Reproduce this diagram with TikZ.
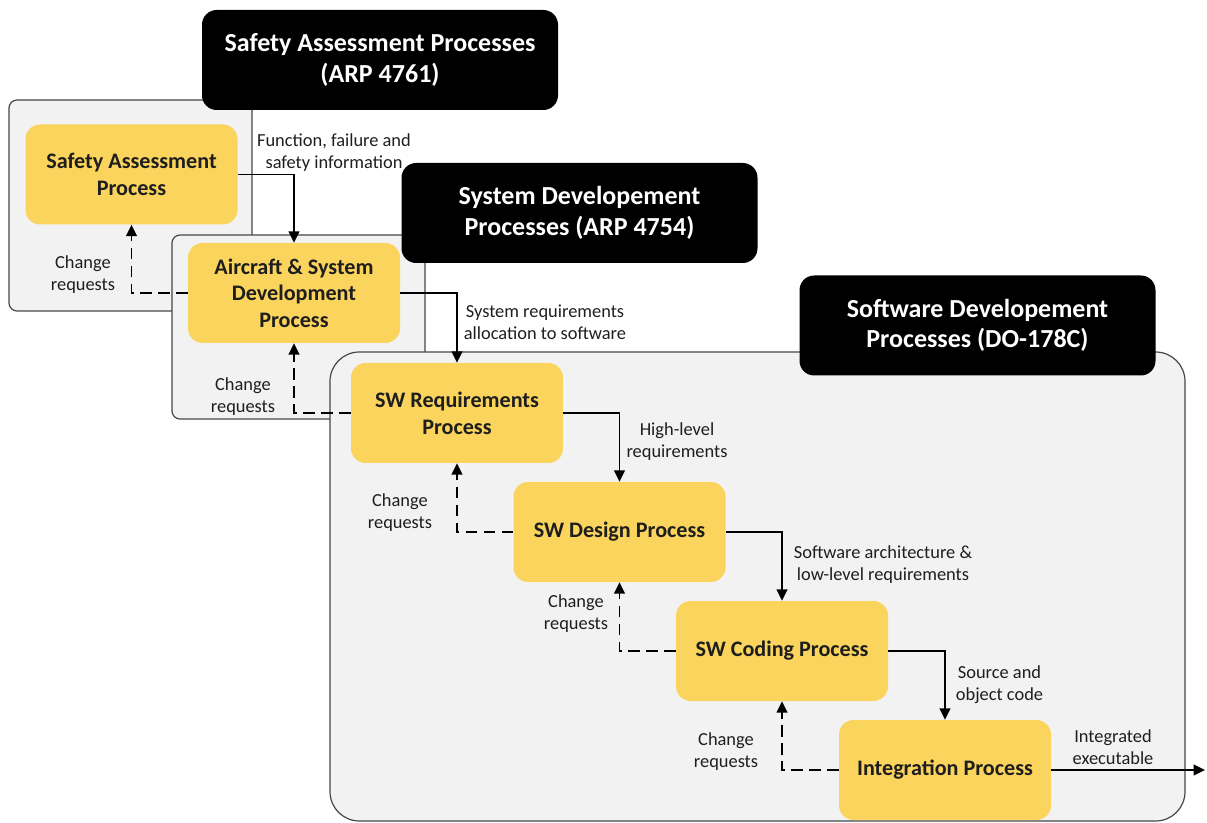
\documentclass[tikz,border=0pt]{standalone}
\usepackage{fontspec}
\setmainfont{Carlito}
\usetikzlibrary{arrows.meta}
\definecolor{procfill}{RGB}{250,212,92}
\definecolor{grpfill}{RGB}{242,242,242}
\definecolor{grpline}{RGB}{70,70,70}
\definecolor{txt}{RGB}{30,30,30}
\tikzset{
  graybox/.style={draw=grpline, fill=grpfill, line width=0.9pt},
  header/.style={fill=black, text=white, rounded corners=11pt, minimum width=267pt, minimum height=75pt,
    font=\fontsize{19.5}{23}\selectfont\bfseries, align=center, inner sep=0pt},
  proc/.style={fill=procfill, rounded corners=11pt, minimum width=159pt, minimum height=75pt,
    font=\fontsize{16.6}{20}\selectfont\bfseries, text=txt, align=center, inner sep=0pt},
  lbl/.style={font=\fontsize{13.8}{16.5}\selectfont, text=txt, align=center, inner sep=0pt},
  flow/.style={draw=black, line width=1.2pt, -{Triangle[length=8.5pt,width=8pt]}},
  fb/.style={draw=black, line width=1.2pt, dash pattern=on 8.5pt off 5pt, -{Triangle[length=8.5pt,width=8pt]}}
}
\begin{document}
\begin{tikzpicture}[x=0.75pt,y=-0.75pt]
\useasboundingbox (0,0) rectangle (1207,823);
% group 1
\path[graybox, rounded corners=6pt] (9,100) rectangle (252,311);
\node[header] (h1) at (380,60) {Safety Assessment Processes\\(ARP 4761)};
% group 2
\path[graybox, rounded corners=6pt] (172,235) rectangle (425,419);
\node[header] (h2) at (579.5,213) {System Developement\\Processes (ARP 4754)};
% group 3
\path[graybox, rounded corners=22pt] (330,352) rectangle (1185,821);
\node[header] (h3) at (977.5,325.5) {Software Developement\\Processes (DO-178C)};
% processes
\node[proc] (saf) at (131.5,174.5) {Safety Assessment\\Process};
\node[proc] (acs) at (294,293) {Aircraft \& System\\Development\\Process};
\node[proc] (swr) at (457,413) {SW Requirements\\Process};
\node[proc] (swd) at (619.5,532) {SW Design Process};
\node[proc] (swc) at (782,651) {SW Coding Process};
\node[proc] (int) at (945,770) {Integration Process};
\coordinate (out) at (1205,770);
% forward flows
\draw[flow] (saf.east) -| (acs.north);
\draw[flow] (acs.east) -| (swr.north);
\draw[flow] (swr.east) -| (swd.north);
\draw[flow] (swd.east) -| (swc.north);
\draw[flow] (swc.east) -| (int.north);
\draw[flow] (int.east) -- (out);
% feedback
\draw[fb] (acs.west) -| (saf.south);
\draw[fb] (swr.west) -| (acs.south);
\draw[fb] (swd.west) -| (swr.south);
\draw[fb] (swc.west) -| (swd.south);
\draw[fb] (int.west) -| (swc.south);
% labels
\node[lbl] (l1) at (334,153) {Function, failure and\\safety information};
\node[lbl] (l2) at (545,322) {System requirements\\allocation to software};
\node[lbl] (l3) at (677,442) {High-level\\requirements};
\node[lbl] (l4) at (883,565) {Software architecture \&\\low-level requirements};
\node[lbl] (l5) at (999.5,685) {Source and\\object code};
\node[lbl] (l6) at (1113,747) {Integrated\\executable};
\node[lbl] (c1) at (83,275) {Change\\requests};
\node[lbl] (c2) at (243,397) {Change\\requests};
\node[lbl] (c3) at (400,513) {Change\\requests};
\node[lbl] (c4) at (576,614) {Change\\requests};
\node[lbl] (c5) at (726,752) {Change\\requests};
\end{tikzpicture}
\end{document}
